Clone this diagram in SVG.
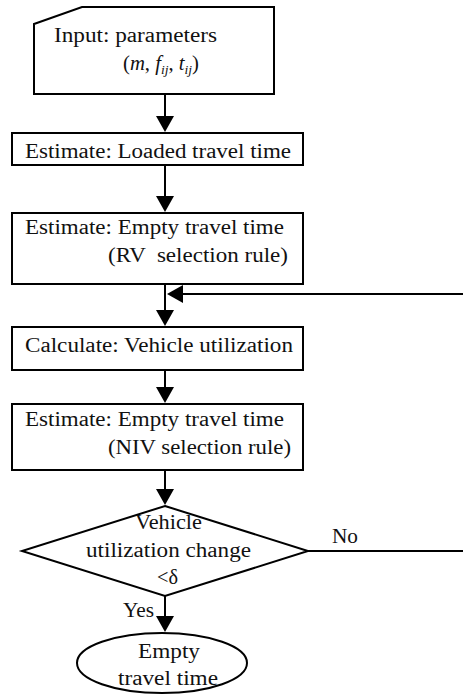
<svg xmlns="http://www.w3.org/2000/svg" width="463" height="694" viewBox="0 0 463 694">
  <defs>
    <marker id="arrow" viewBox="0 0 16 18" markerWidth="16" markerHeight="18" refX="14" refY="9" orient="auto" markerUnits="userSpaceOnUse">
      <path d="M0,0 L16,9 L0,18 z" fill="#000"/>
    </marker>
    <style>
      .shape { fill: #fff; stroke: #000; stroke-width: 2; }
      .edge { fill: none; stroke: #000; stroke-width: 2; }
      .arrow { marker-end: url(#arrow); }
      text { font-family: "Liberation Serif", "Times New Roman", serif; font-size: 20px; fill: #111; }
      .it { font-style: italic; }
      .sub { font-style: italic; font-size: 13px; }
    </style>
  </defs>

  <rect width="463" height="694" fill="#fff"/>

  <!-- connectors -->
  <g id="connectors">
    <line class="edge arrow" x1="165" y1="94" x2="165" y2="130"/>
    <line class="edge arrow" x1="165" y1="165" x2="165" y2="210"/>
    <line class="edge arrow" x1="165" y1="284" x2="165" y2="324"/>
    <line class="edge arrow" x1="463" y1="294" x2="169" y2="294"/>
    <line class="edge arrow" x1="165" y1="370" x2="165" y2="401"/>
    <line class="edge arrow" x1="165" y1="470" x2="165" y2="503"/>
    <line class="edge" x1="308" y1="551" x2="463" y2="551"/>
    <line class="edge arrow" x1="165" y1="596" x2="165" y2="630"/>
    <text x="332" y="543" textLength="26" lengthAdjust="spacingAndGlyphs">No</text>
    <text x="123" y="617" textLength="31" lengthAdjust="spacingAndGlyphs">Yes</text>
  </g>

  <!-- input parameters -->
  <g id="input">
    <polygon class="shape" points="34,24 82,7 274,7 274,94 34,94"/>
    <text x="54" y="42" textLength="163" lengthAdjust="spacingAndGlyphs">Input: parameters</text>
    <text x="123" y="70" textLength="76" lengthAdjust="spacingAndGlyphs">(<tspan class="it">m</tspan>, <tspan class="it">f</tspan><tspan class="sub" dy="4">ij</tspan><tspan dy="-4">, </tspan><tspan class="it">t</tspan><tspan class="sub" dy="4">ij</tspan><tspan dy="-4">)</tspan></text>
  </g>

  <!-- loaded travel time -->
  <g id="loaded">
    <rect class="shape" x="12" y="133" width="291" height="32"/>
    <text x="25" y="158" textLength="266" lengthAdjust="spacingAndGlyphs">Estimate: Loaded travel time</text>
  </g>

  <!-- empty travel time, RV rule -->
  <g id="empty-rv">
    <rect class="shape" x="12" y="213" width="291" height="71"/>
    <text x="25" y="234" textLength="259" lengthAdjust="spacingAndGlyphs">Estimate: Empty travel time</text>
    <text x="108" y="262" textLength="180" lengthAdjust="spacingAndGlyphs" xml:space="preserve">(RV  selection rule)</text>
  </g>

  <!-- vehicle utilization -->
  <g id="utilization">
    <rect class="shape" x="12" y="327" width="291" height="43"/>
    <text x="25" y="352" textLength="268" lengthAdjust="spacingAndGlyphs">Calculate: Vehicle utilization</text>
  </g>

  <!-- empty travel time, NIV rule -->
  <g id="empty-niv">
    <rect class="shape" x="12" y="404" width="291" height="66"/>
    <text x="25" y="426" textLength="259" lengthAdjust="spacingAndGlyphs">Estimate: Empty travel time</text>
    <text x="108" y="454" textLength="183" lengthAdjust="spacingAndGlyphs">(NIV selection rule)</text>
  </g>

  <!-- convergence test -->
  <g id="decision">
    <polygon class="shape" points="165,506 308,551 165,596 22,551"/>
    <text x="135" y="529" textLength="67" lengthAdjust="spacingAndGlyphs">Vehicle</text>
    <text x="86" y="557" textLength="165" lengthAdjust="spacingAndGlyphs">utilization change</text>
    <text x="157" y="584" textLength="21" lengthAdjust="spacingAndGlyphs">&lt;δ</text>
  </g>

  <!-- result -->
  <g id="result">
    <ellipse class="shape" cx="162" cy="663" rx="85" ry="30"/>
    <text x="138" y="658" textLength="62" lengthAdjust="spacingAndGlyphs">Empty</text>
    <text x="118" y="685" textLength="100" lengthAdjust="spacingAndGlyphs">travel time</text>
  </g>
</svg>
